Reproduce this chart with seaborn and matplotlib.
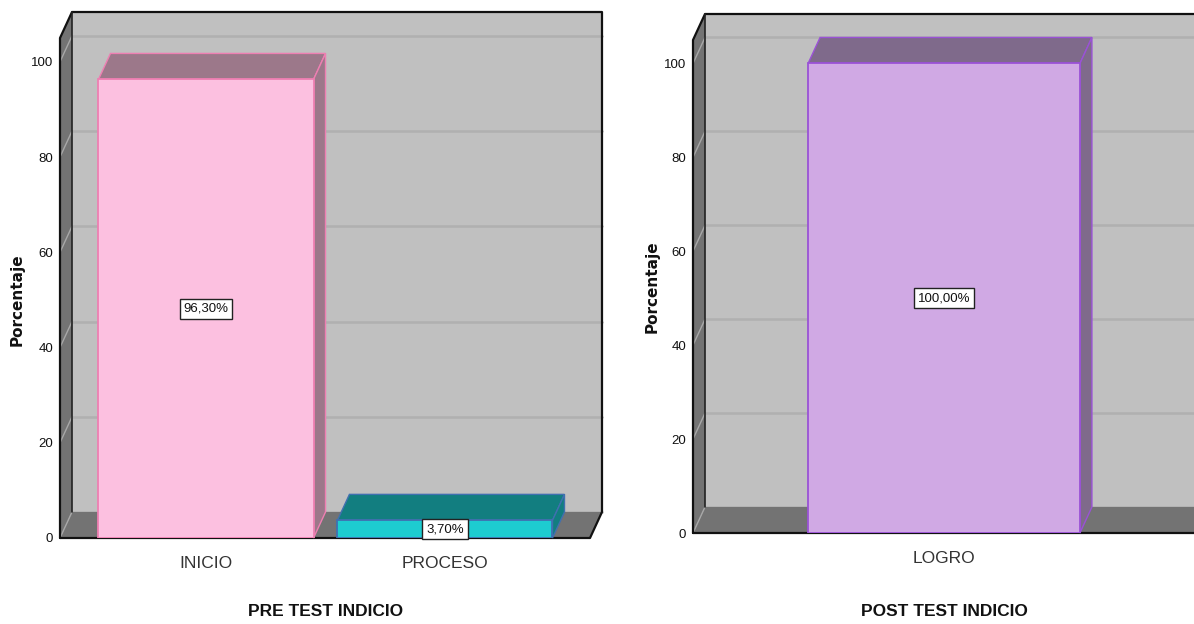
import numpy as np
import pandas as pd
import matplotlib
matplotlib.use("Agg")
import matplotlib.pyplot as plt
import seaborn as sns
from matplotlib.patches import Polygon
from matplotlib.lines import Line2D
from matplotlib.transforms import IdentityTransform
from matplotlib import font_manager

# ---------------- data ----------------
pre_categories = ["INICIO", "PROCESO"]
pre_values = [96.30, 3.70]
post_categories = ["LOGRO"]
post_values = [100.00]
y_ticks = [0, 20, 40, 60, 80, 100]
pre_title = "PRE TEST INDICIO"
post_title = "POST TEST INDICIO"
y_label = "Porcentaje"

# ---------------- styles ----------------
pre_front = ["#FCC0E0", "#1DCCD0"]
pre_depth = ["#9C788A", "#127E80"]
pre_edge = ["#EE7FB2", "#4070B0"]
post_front = ["#D0A9E4"]
post_depth = ["#7F6A8B"]
post_edge = ["#9A52D6"]

WALL = "#C0C0C0"
FLOOR = "#737373"

sns.set_theme(style="white")
avail = {f.name for f in font_manager.fontManager.ttflist}
narrow = "Liberation Sans Narrow" if "Liberation Sans Narrow" in avail else "Liberation Sans"
plt.rcParams['font.family'] = [narrow, 'DejaVu Sans']

W, H = 1194, 624
fig = plt.figure(figsize=(W / 100, H / 100), dpi=100)
DX, DY = 12, 26
YMAX = 105


def panel(rect_px, xlim, cats, vals, fronts, depths, edges, title, ylab_off):
    l, t, r, b = rect_px
    ax = fig.add_axes([l / W, (H - b) / H, (r - l) / W, (b - t) / H])
    df = pd.DataFrame({"cat": cats, "val": vals})
    sns.barplot(data=df, x="cat", y="val", hue="cat", palette=fronts,
                width=0.9, ax=ax, legend=False, saturation=1)
    bars = list(ax.patches)
    ax.set_xlim(*xlim)
    ax.set_ylim(0, YMAX)
    ax.set_autoscale_on(False)
    td = ax.transData.transform

    def poly(pts, **kw):
        ax.add_patch(Polygon(pts, closed=True, transform=IdentityTransform(),
                             clip_on=False, **kw))

    def line(xs, ys, **kw):
        ax.add_line(Line2D(xs, ys, transform=IdentityTransform(), clip_on=False, **kw))

    x0, y0 = td((xlim[0], 0))
    x1, y1 = td((xlim[1], YMAX))
    # back wall
    poly([(x0 + DX, y0 + DY), (x1 + DX, y0 + DY), (x1 + DX, y1 + DY), (x0 + DX, y1 + DY)],
         facecolor=WALL, edgecolor="none", zorder=0.1)
    # grid on back wall
    for tv in y_ticks:
        _, ty = td((0, tv))
        line([x0 + DX, x1 + DX], [ty + DY, ty + DY], color="#B0B0B0", lw=1.8, zorder=0.2)
    # side wall
    poly([(x0, y0), (x0, y1), (x0 + DX, y1 + DY), (x0 + DX, y0 + DY)],
         facecolor=FLOOR, edgecolor="none", zorder=0.3)
    # floor
    poly([(x0, y0), (x1, y0), (x1 + DX, y0 + DY), (x0 + DX, y0 + DY)],
         facecolor=FLOOR, edgecolor="none", zorder=0.3)
    for tv in y_ticks:
        _, ty = td((0, tv))
        line([x0, x0 + DX], [ty, ty + DY], color="#A8A8A8", lw=1.0, zorder=0.35)
    # outline
    line([x0, x0, x0 + DX, x1 + DX, x1 + DX, x1, x0],
         [y0, y1, y1 + DY, y1 + DY, y0 + DY, y0, y0], color="#111111", lw=1.6, zorder=0.4)
    line([x0 + DX, x0 + DX], [y0 + DY, y1 + DY], color="#222222", lw=1.2, zorder=0.4)

    # 3D bars
    for i, p in enumerate(bars):
        bx, bw, bh = p.get_x(), p.get_width(), p.get_height()
        ax_, ay_ = td((bx, 0))
        bx_, by_ = td((bx + bw, bh))
        poly([(ax_, by_), (bx_, by_), (bx_ + DX, by_ + DY), (ax_ + DX, by_ + DY)],
             facecolor=depths[i], edgecolor=edges[i], lw=1.0, zorder=1.5)
        poly([(bx_, ay_), (bx_, by_), (bx_ + DX, by_ + DY), (bx_ + DX, ay_ + DY)],
             facecolor=depths[i], edgecolor=edges[i], lw=1.0, zorder=1.5)
        p.set_edgecolor(edges[i])
        p.set_linewidth(1.3)
        p.set_zorder(2)
        lab = f"{vals[i]:.2f}%".replace(".", ",")
        ax.text(bx + bw / 2, bh / 2, lab, ha="center", va="center", fontsize=9.5,
                color="#111111", zorder=5,
                bbox=dict(boxstyle="square,pad=0.3", fc="white", ec="#222222", lw=1.0))

    for s in ax.spines.values():
        s.set_visible(False)
    ax.set_yticks(y_ticks)
    ax.set_yticklabels([str(v) for v in y_ticks])
    ax.tick_params(axis="y", length=0, pad=5, labelsize=9.5, labelcolor="#111111")
    ax.tick_params(axis="x", length=0, pad=13, labelsize=12.5, labelcolor="#333333")
    ax.set_xlabel("")
    ax.set_ylabel("")
    xc = float(np.mean(range(len(cats))))
    ax.annotate(title, xy=(xc, 0), xycoords=("data", "axes fraction"),
                xytext=(0, -(612 - b)), textcoords="offset pixels",
                ha="center", va="center", fontsize=12.5, fontweight="bold", color="#111111")
    ax.annotate(y_label, xy=(0, 0.5), xycoords="axes fraction",
                xytext=ylab_off, textcoords="offset pixels", rotation=90,
                ha="center", va="center", fontsize=11, fontweight="bold",
                family="DejaVu Sans", color="#111111")
    return ax


panel((60, 38, 590, 538), (-0.611, 1.607), pre_categories, pre_values,
      pre_front, pre_depth, pre_edge, pre_title, (-43, -12))
panel((693, 40, 1240, 533), (-0.831, 0.980), post_categories, post_values,
      post_front, post_depth, post_edge, post_title, (-41, 0))

fig.savefig("out.png", dpi=100)
